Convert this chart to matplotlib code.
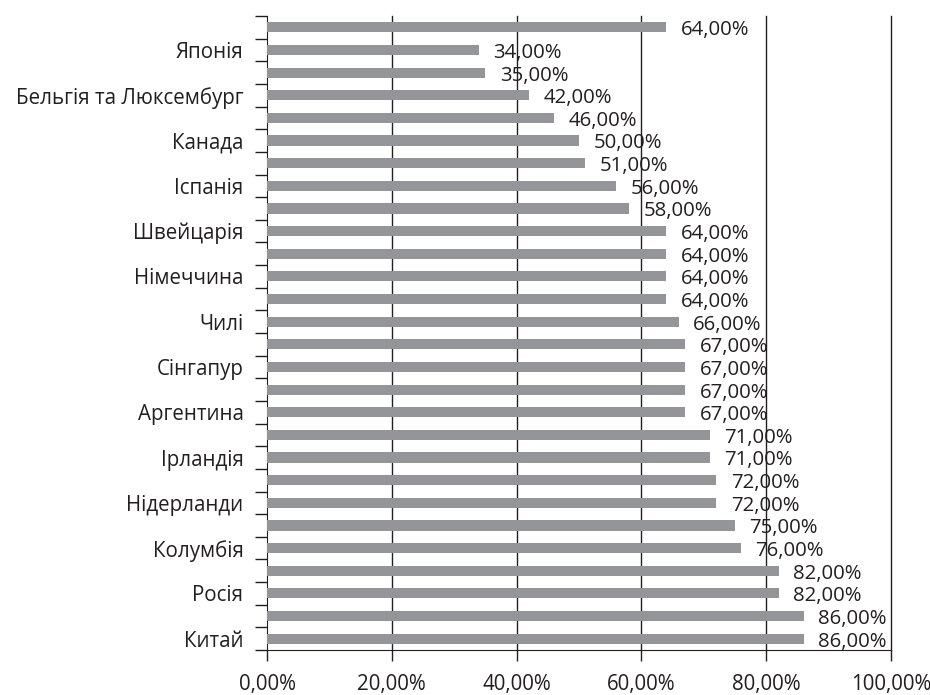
import matplotlib
matplotlib.use("Agg")
import matplotlib.pyplot as plt
import numpy as np
from matplotlib.ticker import FixedLocator

plt.rcParams['font.family'] = ['Open Sans', 'DejaVu Sans']

# top-to-bottom order as in the picture
countries = ["", "Японія", "", "Бельгія та Люксембург", "", "Канада", "", "Іспанія",
             "", "Швейцарія", "", "Німеччина", "", "Чилі", "", "Сінгапур", "",
             "Аргентина", "", "Ірландія", "", "Нідерланди", "", "Колумбія", "",
             "Росія", "", "Китай"]
values = [64, 34, 35, 42, 46, 50, 51, 56, 58, 64, 64, 64, 64, 66, 67, 67, 67, 67,
          71, 71, 72, 72, 75, 76, 82, 82, 86, 86]
xticks = [0, 20, 40, 60, 80, 100]
xtick_labels = ["0,00%", "20,00%", "40,00%", "60,00%", "80,00%", "100,00%"]

fig = plt.figure(figsize=(9.3, 6.95), dpi=100)
ax = fig.add_axes([267/930, 45/695, 624/930, 634/695])

n = len(values)
y = np.arange(n)[::-1]  # first item at top
ax.barh(y, values, height=0.45, color="#939598", zorder=3)

for yi, v in zip(y, values):
    ax.text(v + 2.3, yi - 0.13, f"{v},00%", va="center", ha="left",
            fontsize=14.7, color="#231f20", zorder=4)

ax.set_xlim(0, 100)
ax.set_ylim(-0.5, n - 0.5)
ax.set_xticks(xticks)
ax.set_xticklabels(xtick_labels, fontsize=14.8, color="#231f20")
for xt in xticks[1:]:
    ax.axvline(xt, color="#231f20", linewidth=1.0, zorder=1, clip_on=False)
ax.tick_params(axis="x", length=8, width=1, color="#231f20", pad=9)

ax.set_yticks(y)
ax.set_yticklabels(countries, fontsize=14.8, color="#231f20")
ax.tick_params(axis="y", which="major", length=0, pad=17)
ax.yaxis.set_minor_locator(FixedLocator(np.arange(-0.5, n, 1.0)))
ax.tick_params(axis="y", which="minor", length=9, width=1, color="#231f20")

for s in ["top", "right"]:
    ax.spines[s].set_visible(False)
ax.spines["left"].set_color("#231f20")
ax.spines["bottom"].set_color("#231f20")

fig.savefig("out.png", dpi=100)
